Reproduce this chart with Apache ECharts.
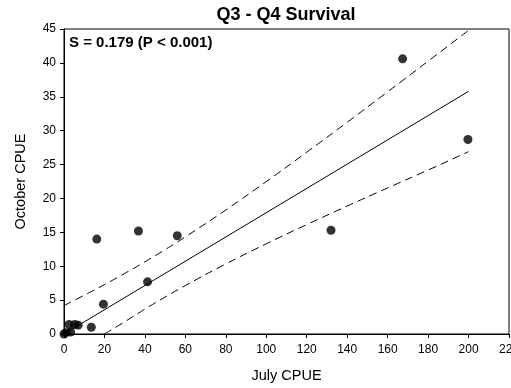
<!DOCTYPE html>
<html>
<head>
<meta charset="utf-8">
<script src="https://cdn.jsdelivr.net/npm/echarts@6/dist/echarts.min.js"></script>
<style>
html,body{margin:0;padding:0;background:#fff;}
#chart{width:511px;height:388px;}
</style>
</head>
<body>
<div id="chart"></div>
<script>
// Observed points
var julyCPUE = [0, 1, 3.3, 2.5, 5.3, 7, 13.5, 16.2, 19.5, 36.8, 41.3, 56, 132, 167.4, 199.7];
var octCPUE  = [0, 0.2, 0.3, 1.4, 1.4, 1.3, 1.0, 14.0, 4.4, 15.2, 7.7, 14.5, 15.3, 40.6, 28.7];

// Regression line (S = 0.179)
var fitX = [0, 200];
var fitY = [0, 35.8];

// Upper 95% confidence band
var upperX = [0, 10, 20, 30, 40, 50, 60, 80, 100, 120, 140, 160, 180, 200];
var upperY = [4.2, 5.72, 7.29, 8.94, 10.65, 12.45, 14.33, 18.3, 22.49, 26.82, 31.24, 35.73, 40.25, 44.8];

// Lower 95% confidence band
var lowerX = [20, 30, 40, 50, 60, 80, 100, 120, 140, 160, 180, 200];
var lowerY = [0, 1.8, 3.67, 5.45, 7.15, 10.34, 13.31, 16.14, 18.88, 21.55, 24.19, 26.9];

// Axis ticks
var xTicks = {min: 0, max: 220, interval: 20};
var yTicks = {min: 0, max: 45, interval: 5};

var titleText = 'Q3 - Q4 Survival';
var statText = 'S = 0.179 (P < 0.001)';
var xName = 'July CPUE';
var yName = 'October CPUE';

function zip(a, b) { return a.map(function (v, i) { return [v, b[i]]; }); }

var FONT = '"Liberation Sans", Arial, sans-serif';
var chart = echarts.init(document.getElementById('chart'), null, {renderer: 'canvas'});
chart.setOption({
  animation: false,
  backgroundColor: '#fff',
  title: [
    {text: titleText, left: 286, top: 6, textAlign: 'center', padding: 0,
     textStyle: {fontFamily: FONT, fontSize: 18, fontWeight: 'bold', color: '#000'}},
    {text: statText, left: 69, top: 35, padding: 0,
     textStyle: {fontFamily: FONT, fontSize: 15, fontWeight: 'bold', color: '#000'}}
  ],
  grid: {left: 64, right: 2, top: 29, bottom: 54, containLabel: false, outerBoundsMode: 'none',
         show: true, borderColor: '#000', borderWidth: 1, backgroundColor: 'transparent'},
  xAxis: {
    type: 'value', min: xTicks.min, max: xTicks.max, interval: xTicks.interval,
    name: xName, nameLocation: 'middle', nameGap: 34,
    nameTextStyle: {fontFamily: FONT, fontSize: 14.5, color: '#000'},
    axisLine: {show: true, lineStyle: {color: '#000', width: 1}},
    axisTick: {show: true, inside: false, length: 4, lineStyle: {color: '#000'}},
    axisLabel: {fontFamily: FONT, fontSize: 12, color: '#000', margin: 10, showMaxLabel: true, hideOverlap: false},
    splitLine: {show: false}
  },
  yAxis: {
    type: 'value', min: yTicks.min, max: yTicks.max, interval: yTicks.interval,
    name: yName, nameLocation: 'middle', nameGap: 36, nameRotate: 90,
    nameTextStyle: {fontFamily: FONT, fontSize: 14.5, color: '#000'},
    axisLine: {show: true, lineStyle: {color: '#000', width: 1}},
    axisTick: {show: true, inside: false, length: 4, lineStyle: {color: '#000'}},
    axisLabel: {fontFamily: FONT, fontSize: 12, color: '#000', margin: 8},
    splitLine: {show: false}
  },
  series: [
    {type: 'line', data: zip(fitX, fitY), showSymbol: false, symbol: 'none',
     lineStyle: {color: '#000', width: 1}, z: 2},
    {type: 'line', data: zip(upperX, upperY), showSymbol: false, symbol: 'none', smooth: true,
     lineStyle: {color: '#000', width: 1, type: [8, 5]}, z: 2},
    {type: 'line', data: zip(lowerX, lowerY), showSymbol: false, symbol: 'none', smooth: true,
     lineStyle: {color: '#000', width: 1, type: [8, 5]}, z: 2},
    {type: 'scatter', data: zip(julyCPUE, octCPUE), symbol: 'circle', symbolSize: 9,
     itemStyle: {color: '#000'}, z: 3, clip: false}
  ]
});
</script>
</body>
</html>
